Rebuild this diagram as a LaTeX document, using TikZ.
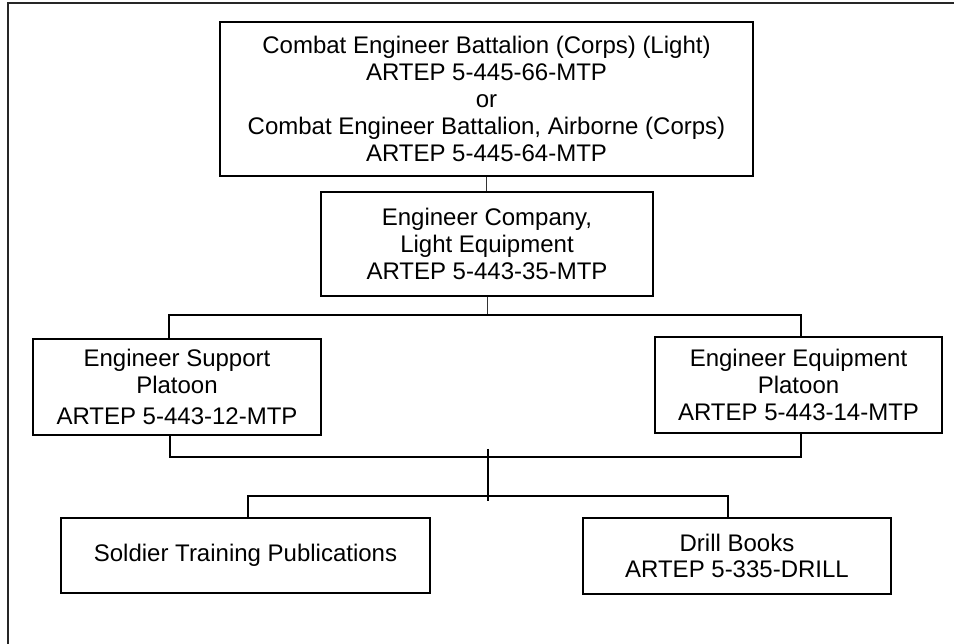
\documentclass[tikz,border=0pt]{standalone}
\usepackage{fontspec}
\setmainfont{Liberation Sans}
\begin{document}
\begin{tikzpicture}[x=1pt,y=-1pt,
  box/.style={draw=black, line width=1.1pt, align=center, inner sep=0pt,
    font=\fontsize{24}{26.8}\selectfont},
  thinline/.style={line width=1pt, draw=black!80},
  thickline/.style={line width=2pt, draw=black},
  frameline/.style={line width=1.2pt, draw=black!85}]
\useasboundingbox (0,0) rectangle (954,644);
\draw[frameline] (8,644) -- (8,3) -- (954,3);

\node[box, minimum width=533pt, minimum height=154pt] (top) at (486.5,99)
  {Combat Engineer Battalion (Corps) (Light)\\ARTEP 5-445-66-MTP\\or\\Combat Engineer Battalion, Airborne (Corps)\\ARTEP 5-445-64-MTP};
\node[box, minimum width=332pt, minimum height=104pt] (mid) at (487,244)
  {Engineer Company,\\Light Equipment\\ARTEP 5-443-35-MTP};
\node[box, minimum width=288pt, minimum height=96pt] (left) at (177,387)
  {Engineer Support\\Platoon\\[4pt]ARTEP 5-443-12-MTP};
\node[box, minimum width=287pt, minimum height=96pt] (right) at (798.5,385)
  {Engineer Equipment\\Platoon\\ARTEP 5-443-14-MTP};
\node[box, minimum width=369pt, minimum height=75pt] (sol) at (245.5,555.5)
  {Soldier Training Publications};
\node[box, minimum width=308pt, minimum height=76pt] (drill) at (737,556)
  {Drill Books\\ARTEP 5-335-DRILL};

\draw[thinline] (top.south) -- (top.south |- mid.north);
\coordinate (j1) at (488,315);
\draw[thinline] (mid.south) -- (mid.south |- j1);
\coordinate (bl) at (169,315);
\coordinate (br) at (801,315);
\draw[thickline] (bl |- left.north) -- (bl) -- (br) -- (br |- right.north);
\coordinate (cl) at (170,457);
\coordinate (cr) at (801,457);
\draw[thickline] (cl |- left.south) -- (cl) -- (cr) -- (cr |- right.south);
\coordinate (vt) at (488,449);
\coordinate (vb) at (488,501);
\draw[thickline] (vt) -- (vb);
\coordinate (dl) at (248,496);
\coordinate (dr) at (728,496);
\draw[thickline] (dl |- sol.north) -- (dl) -- (dr) -- (dr |- drill.north);
\end{tikzpicture}
\end{document}
